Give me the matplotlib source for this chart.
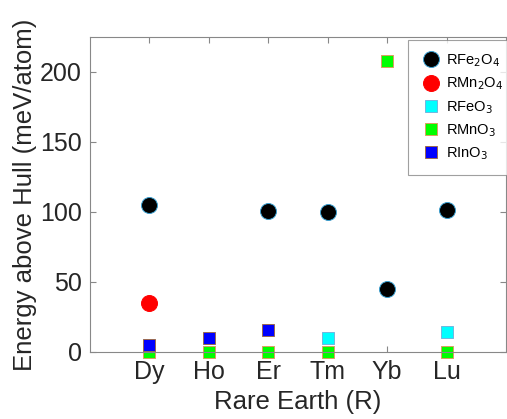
import matplotlib
matplotlib.use("Agg")
import matplotlib.pyplot as plt
import numpy as np

plt.rcParams['font.family'] = ['Liberation Sans', 'DejaVu Sans']

elements = ["Dy", "Ho", "Er", "Tm", "Yb", "Lu"]
rfe2o4 = [105, np.nan, 100.7, 100, 44.6, 101.4]
rmn2o4 = [35, np.nan, np.nan, np.nan, np.nan, np.nan]
rfeo3 = [np.nan, np.nan, np.nan, 10, np.nan, 14]
rmno3 = [0, 0, 0, 0, 208, 0]
rino3 = [4.8, 10, 15.7, np.nan, np.nan, np.nan]
yticks = [0, 50, 100, 150, 200]

fig = plt.figure(figsize=(5.07, 4.19), dpi=100)
ax = fig.add_axes([90/507, 1-351.7/419, 416/507, (351.7-37)/419])
x = np.arange(1, len(elements)+1)

ax.plot(x, rfe2o4, 'o', ms=11.5, mfc='black', mec='#3a9fd0', mew=0.7, ls='none', label=r'RFe$_2$O$_4$', clip_on=False)
ax.plot(x, rmn2o4, 'o', ms=11.5, mfc='red', mec='red', mew=0.7, ls='none', label=r'RMn$_2$O$_4$', clip_on=False)
ax.plot(x, rfeo3, 's', ms=8, mfc='cyan', mec='#6fb7e0', mew=0.7, ls='none', label=r'RFeO$_3$', clip_on=False)
ax.plot(x, rmno3, 's', ms=8, mfc='#00ff00', mec='#d9a060', mew=0.7, ls='none', label=r'RMnO$_3$', clip_on=False)
ax.plot(x, rino3, 's', ms=8, mfc='blue', mec='#9a6a50', mew=0.7, ls='none', label=r'RInO$_3$', clip_on=False)

ax.set_xlim(0, 7)
ax.set_ylim(0, 225)
ax.set_xticks(x)
ax.set_xticklabels(elements)
ax.set_yticks(yticks)
for s in ax.spines.values():
    s.set_color('#888888')
    s.set_linewidth(0.8)
ax.tick_params(direction='in', length=4, width=0.8, color='#888888', labelsize=18, labelcolor='#262626', top=True, right=True, pad=6)
ax.set_xlabel('Rare Earth (R)', fontsize=18.5, color='#262626', labelpad=4)
ax.set_ylabel('Energy above Hull (meV/atom)', fontsize=18.5, color='#262626', labelpad=2)

leg = fig.legend(loc='upper left', bbox_to_anchor=(408/507, 1-40/419), fontsize=10.5,
                 frameon=True, fancybox=False, edgecolor='#888888', borderpad=0.85,
                 labelspacing=0.45, handletextpad=0.35, handlelength=1.4, borderaxespad=0)
leg.get_frame().set_linewidth(0.8)

fig.savefig('out.png', dpi=100)
